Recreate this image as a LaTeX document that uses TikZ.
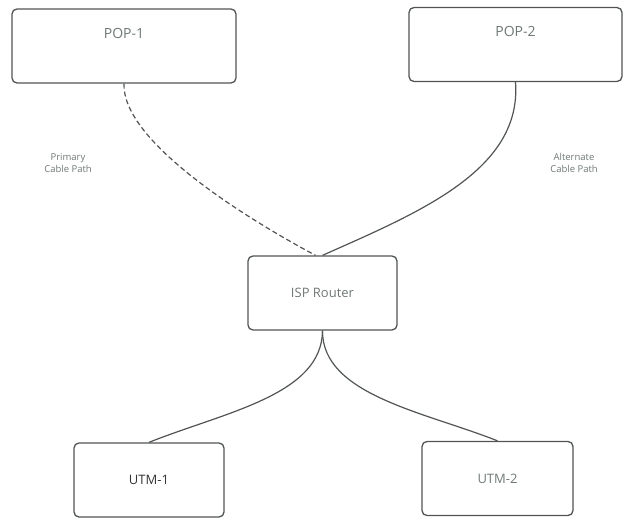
\documentclass[tikz,border=0pt]{standalone}
\usepackage[dvipsnames,svgnames]{xcolor}
\usepackage{fontspec}
\setmainfont{Open Sans}
\definecolor{boxline}{HTML}{505452}
\definecolor{txtgray}{HTML}{6E7876}

\begin{document}
\begin{tikzpicture}[x=1pt,y=-1pt,
    box/.style={draw=boxline,line width=1.3pt,rounded corners=5pt,
      minimum width=150pt,minimum height=74pt,inner sep=0pt},
    wide/.style={box,minimum width=224pt},
    boxtext/.style={text=txtgray,font=\fontsize{13}{15}\selectfont},
    cable/.style={boxline,line width=1.2pt},
    note/.style={text=txtgray,font=\fontsize{9.5}{12}\selectfont,align=center}]
    \useasboundingbox (0,0) rectangle (624,519);
    \node[wide,label={[boxtext,font=\fontsize{14}{16}\selectfont,anchor=center,yshift=-25pt]north:POP-1}] (pop1) at (124,46) {};
    \node[wide,minimum width=213pt,label={[boxtext,font=\fontsize{14}{16}\selectfont,anchor=center,yshift=-25pt]north:POP-2}] (pop2) at (515.5,44.5) {};
    \node[box,minimum width=149pt,boxtext] (isp) at (322.5,293) {ISP Router};
    \node[box,boxtext,text=black!80] (utm1) at (149,480) {UTM-1};
    \node[box,minimum width=151pt,boxtext] (utm2) at (497.5,478.5) {UTM-2};
    % cable paths
    \draw[cable,dash pattern=on 5pt off 3pt] (pop1.south) .. controls (122,140) and (240,215) .. ([xshift=-7pt]isp.north);
    \draw[cable] (pop2.south) .. controls (522,170) and (420,212) .. (isp.north);
    \draw[cable] (isp.south) .. controls (322,395) and (225,412) .. (utm1.north);
    \draw[cable] (isp.south) .. controls (322,395) and (425,412) .. (utm2.north);
    \node[note] (prim) at (68,163) {Primary\\Cable Path};
    \node[note] (alt) at (574,163) {Alternate\\Cable Path};
  \end{tikzpicture}
\end{document}
